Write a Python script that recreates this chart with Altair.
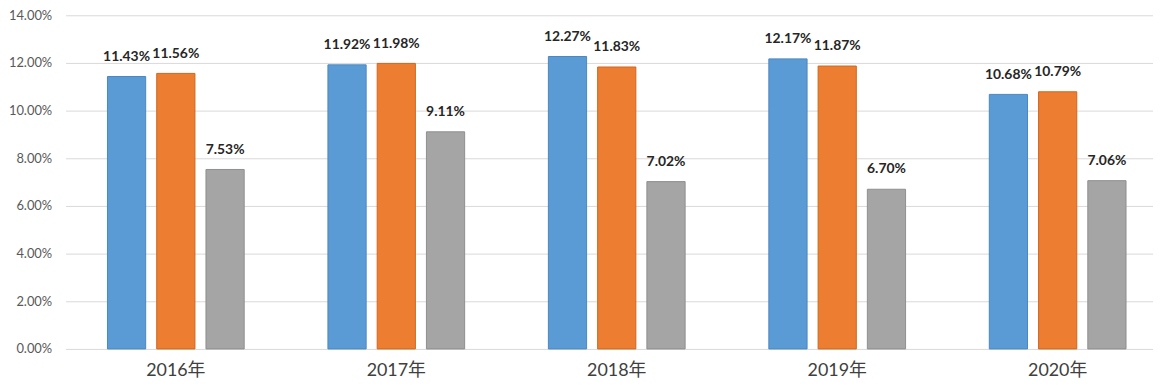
import altair as alt
import pandas as pd

years = ["2016年", "2017年", "2018年", "2019年", "2020年"]
series = ["系列1", "系列2", "系列3"]
s1 = [11.43, 11.92, 12.27, 12.17, 10.68]
s2 = [11.56, 11.98, 11.83, 11.87, 10.79]
s3 = [7.53, 9.11, 7.02, 6.70, 7.06]
y_ticks = [0.0, 0.02, 0.04, 0.06, 0.08, 0.10, 0.12, 0.14]

colors = ["#5B9BD5", "#ED7D31", "#A5A5A5"]
strokes = ["#4A87C0", "#D0671F", "#8E8E8E"]

rows = []
for vals, name in zip([s1, s2, s3], series):
    for yr, v in zip(years, vals):
        rows.append({"year": yr, "series": name, "value": v})
df = pd.DataFrame(rows)

FONT = "Lato, 'Noto Sans CJK SC', sans-serif"

base = alt.Chart(df).transform_calculate(frac="datum.value / 100").encode(
    x=alt.X(
        "year:N",
        sort=years,
        scale=alt.Scale(range=[3, 1113], paddingInner=0, paddingOuter=0),
        axis=alt.Axis(
            title=None, labelAngle=0, labelFontSize=18, labelFont=FONT,
            labelColor="#404040", ticks=False, domain=False, labelPadding=13,
            labelBaseline="top",
        ),
    ),
    xOffset=alt.XOffset(
        "series:N", sort=series,
        scale=alt.Scale(paddingInner=0.224, paddingOuter=0.85),
    ),
    y=alt.Y(
        "frac:Q",
        scale=alt.Scale(domain=[0, 0.14], nice=False),
        axis=alt.Axis(
            title=None, format=".2%", values=y_ticks, labelFontSize=13,
            labelFont=FONT, labelColor="#595959", ticks=False, domain=False,
            labelPadding=11, grid=True, gridColor="#D9D9D9", gridWidth=1,
        ),
    ),
)

bars = base.mark_bar(strokeWidth=1).encode(
    color=alt.Color("series:N", sort=series,
                    scale=alt.Scale(domain=series, range=colors), legend=None),
    stroke=alt.Stroke("series:N", sort=series,
                      scale=alt.Scale(domain=series, range=strokes), legend=None),
)

labels = base.mark_text(
    baseline="bottom", dy=-13, fontSize=14, fontWeight="bold",
    font=FONT, color="#262626",
).encode(text=alt.Text("frac:Q", format=".2%"))

chart = (
    alt.layer(bars, labels)
    .properties(
        width=1098, height=336,
        autosize=alt.AutoSizeParams(type="none"),
        padding={"left": 55, "top": 6, "right": 0, "bottom": 35},
    )
    .configure_view(stroke=None)
)

chart.save("out.html", embed_options={"renderer": "svg", "actions": False})
